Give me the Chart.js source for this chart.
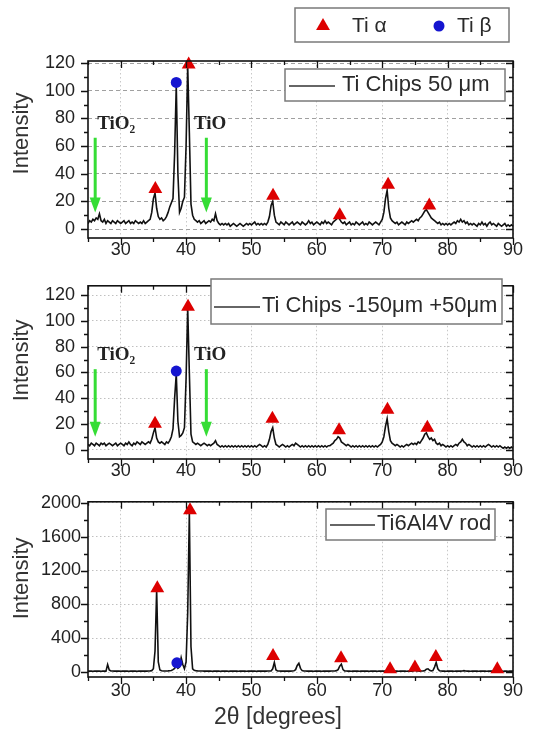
<!DOCTYPE html>
<html>
<head>
<meta charset="utf-8">
<script src="https://cdn.jsdelivr.net/npm/chart.js@4.4.1/dist/chart.umd.min.js"></script>
<style>
  html, body { margin: 0; padding: 0; background: #fff; }
  #wrap { position: relative; width: 533px; height: 737px; }
  #wrap canvas { position: absolute; left: 0; }
</style>
</head>
<body>
<div id="wrap">
  <canvas id="p1" width="533" height="262" style="top:0px"></canvas>
  <canvas id="p2" width="533" height="222" style="top:262px"></canvas>
  <canvas id="p3" width="533" height="253" style="top:484px"></canvas>
</div>
<script>
// 2theta grid (degrees), 10 points per row
const twoTheta = [
  25, 25.25, 25.5, 25.75, 26, 26.25, 26.5, 26.75, 27, 27.25,
  27.5, 27.75, 28, 28.25, 28.5, 28.75, 29, 29.25, 29.5, 29.75,
  30, 30.25, 30.5, 30.75, 31, 31.25, 31.5, 31.75, 32, 32.25,
  32.5, 32.75, 33, 33.25, 33.5, 33.75, 34, 34.25, 34.5, 34.75,
  35, 35.25, 35.5, 35.75, 36, 36.25, 36.5, 36.75, 37, 37.25,
  37.5, 37.75, 38, 38.25, 38.5, 38.75, 39, 39.25, 39.5, 39.75,
  40, 40.25, 40.5, 40.75, 41, 41.25, 41.5, 41.75, 42, 42.25,
  42.5, 42.75, 43, 43.25, 43.5, 43.75, 44, 44.25, 44.5, 44.75,
  45, 45.25, 45.5, 45.75, 46, 46.25, 46.5, 46.75, 47, 47.25,
  47.5, 47.75, 48, 48.25, 48.5, 48.75, 49, 49.25, 49.5, 49.75,
  50, 50.25, 50.5, 50.75, 51, 51.25, 51.5, 51.75, 52, 52.25,
  52.5, 52.75, 53, 53.25, 53.5, 53.75, 54, 54.25, 54.5, 54.75,
  55, 55.25, 55.5, 55.75, 56, 56.25, 56.5, 56.75, 57, 57.25,
  57.5, 57.75, 58, 58.25, 58.5, 58.75, 59, 59.25, 59.5, 59.75,
  60, 60.25, 60.5, 60.75, 61, 61.25, 61.5, 61.75, 62, 62.25,
  62.5, 62.75, 63, 63.25, 63.5, 63.75, 64, 64.25, 64.5, 64.75,
  65, 65.25, 65.5, 65.75, 66, 66.25, 66.5, 66.75, 67, 67.25,
  67.5, 67.75, 68, 68.25, 68.5, 68.75, 69, 69.25, 69.5, 69.75,
  70, 70.25, 70.5, 70.75, 71, 71.25, 71.5, 71.75, 72, 72.25,
  72.5, 72.75, 73, 73.25, 73.5, 73.75, 74, 74.25, 74.5, 74.75,
  75, 75.25, 75.5, 75.75, 76, 76.25, 76.5, 76.75, 77, 77.25,
  77.5, 77.75, 78, 78.25, 78.5, 78.75, 79, 79.25, 79.5, 79.75,
  80, 80.25, 80.5, 80.75, 81, 81.25, 81.5, 81.75, 82, 82.25,
  82.5, 82.75, 83, 83.25, 83.5, 83.75, 84, 84.25, 84.5, 84.75,
  85, 85.25, 85.5, 85.75, 86, 86.25, 86.5, 86.75, 87, 87.25,
  87.5, 87.75, 88, 88.25, 88.5, 88.75, 89, 89.25, 89.5, 89.75,
  90
];

// Ti Chips 50 um
const chips50 = [
  4, 6, 5, 7, 6, 8, 7, 11, 6, 5,
  7, 4, 6, 5, 4, 6, 5, 4, 6, 5,
  4, 5, 6, 4, 5, 6, 4, 5, 4, 6,
  5, 4, 5, 4, 6, 4, 5, 6, 7, 12,
  22, 26, 15, 9, 7, 8, 6, 7, 9, 12,
  16, 19, 22, 55, 104, 40, 12, 15, 20, 23,
  60, 118, 70, 18, 10, 7, 6, 5, 6, 4,
  5, 6, 4, 5, 6, 5, 7, 6, 11, 6,
  4, 3, 4, 3, 4, 3, 4, 2, 3, 4,
  3, 2, 3, 4, 3, 2, 3, 4, 3, 4,
  3, 4, 5, 3, 4, 3, 4, 3, 4, 3,
  5, 9, 17, 20, 10, 5, 4, 3, 5, 4,
  3, 5, 4, 3, 4, 5, 3, 4, 5, 4,
  3, 5, 4, 3, 4, 6, 4, 5, 3, 4,
  5, 4, 3, 5, 4, 6, 4, 5, 4, 3,
  5, 6, 7, 9, 7, 5, 4, 5, 3, 4,
  5, 3, 4, 3, 5, 4, 3, 4, 5, 3,
  4, 3, 5, 4, 3, 4, 5, 4, 3, 5,
  7, 12, 22, 28, 15, 8, 6, 5, 4, 5,
  3, 4, 5, 4, 3, 5, 4, 5, 6, 5,
  6, 7, 6, 8, 9, 11, 13, 14, 12, 10,
  8, 7, 6, 5, 4, 5, 3, 4, 3, 4,
  3, 4, 3, 4, 5, 4, 6, 5, 7, 5,
  6, 4, 5, 3, 4, 3, 4, 3, 2, 4,
  3, 5, 3, 4, 2, 4, 5, 3, 4, 3,
  2, 4, 3, 2, 3, 4, 2, 3, 2, 3,
  2
];

// Ti Chips -150um +50um
const chips150 = [
  4, 3, 5, 4, 3, 5, 4, 3, 5, 4,
  5, 3, 4, 5, 4, 3, 4, 5, 3, 4,
  5, 4, 3, 5, 4, 6, 4, 3, 5, 4,
  6, 5, 4, 6, 5, 4, 5, 6, 5, 8,
  13, 17, 9, 6, 5, 6, 5, 4, 6, 5,
  7, 10, 16, 40, 59, 22, 10, 11, 13, 17,
  55, 110, 60, 12, 6, 5, 4, 5, 4, 3,
  4, 5, 4, 3, 4, 3, 4, 5, 7, 4,
  3, 2, 3, 2, 3, 2, 3, 2, 3, 2,
  3, 2, 3, 2, 3, 2, 3, 2, 3, 2,
  3, 2, 3, 2, 3, 4, 3, 2, 3, 2,
  4, 8, 14, 17, 9, 4, 3, 2, 3, 4,
  3, 2, 3, 2, 3, 4, 3, 5, 4, 3,
  2, 3, 2, 3, 2, 3, 2, 3, 2, 3,
  2, 3, 2, 3, 2, 3, 2, 3, 3, 4,
  5, 7, 8, 10, 9, 6, 5, 4, 3, 4,
  3, 2, 3, 2, 3, 2, 3, 2, 3, 2,
  3, 2, 3, 2, 3, 2, 3, 2, 3, 4,
  6, 10, 18, 24, 14, 7, 5, 4, 3, 4,
  3, 2, 3, 2, 3, 4, 3, 4, 5, 4,
  5, 4, 6, 5, 7, 9, 12, 13, 10, 8,
  9, 7, 8, 5, 4, 5, 3, 4, 3, 2,
  3, 2, 3, 2, 3, 4, 3, 5, 6, 8,
  6, 5, 3, 4, 3, 2, 3, 2, 3, 2,
  3, 2, 3, 2, 3, 4, 3, 2, 3, 2,
  3, 2, 3, 2, 1, 2, 1, 2, 1, 2,
  1
];

// Ti6Al4V rod
const rod = [
  12, 13, 12, 11, 13, 12, 12, 13, 11, 12,
  13, 12, 90, 25, 14, 13, 12, 12, 13, 12,
  11, 12, 13, 12, 12, 11, 12, 13, 12, 12,
  11, 12, 13, 12, 12, 13, 12, 14, 15, 18,
  40, 250, 970, 120, 25, 16, 14, 13, 14, 15,
  17, 20, 30, 45, 80, 45, 60, 170, 90, 40,
  120, 700, 1890, 300, 40, 22, 17, 15, 14, 13,
  13, 12, 12, 13, 12, 12, 11, 12, 13, 12,
  12, 11, 12, 13, 12, 12, 11, 12, 12, 13,
  12, 12, 11, 12, 13, 12, 12, 11, 12, 12,
  13, 12, 12, 11, 12, 13, 12, 12, 13, 12,
  13, 14, 15, 40, 115, 25, 14, 13, 12, 12,
  13, 12, 12, 13, 12, 14, 16, 30, 80, 105,
  45, 18, 14, 13, 12, 12, 13, 12, 11, 12,
  12, 13, 12, 11, 12, 12, 13, 12, 12, 13,
  13, 14, 18, 30, 70, 95, 30, 15, 13, 12,
  12, 11, 12, 13, 12, 12, 11, 12, 12, 13,
  12, 12, 11, 12, 13, 12, 12, 11, 12, 13,
  12, 12, 13, 12, 16, 22, 15, 13, 12, 12,
  11, 12, 13, 12, 12, 11, 12, 13, 12, 14,
  22, 15, 13, 12, 13, 14, 18, 35, 40, 22,
  16, 20, 60, 115, 40, 16, 13, 12, 12, 11,
  12, 12, 13, 12, 11, 12, 12, 13, 12, 13,
  18, 13, 12, 12, 11, 12, 13, 12, 12, 11,
  12, 12, 13, 12, 11, 12, 12, 13, 12, 13,
  16, 13, 12, 12, 11, 12, 12, 11, 12, 12,
  12
];

// phase markers (2theta, intensity)
const alpha50X = [35.3, 40.4, 53.3, 63.5, 70.9, 77.2];
const alpha50Y = [29, 119, 24, 10, 32, 17];
const beta50X = [38.5];
const beta50Y = [106];
const alpha150X = [35.25, 40.3, 53.2, 63.4, 70.8, 76.9];
const alpha150Y = [20, 111, 24, 15, 31, 17];
const beta150X = [38.5];
const beta150Y = [61];
const alphaRodX = [35.6, 40.6, 53.3, 63.7, 71.2, 75.0, 78.2, 87.6];
const alphaRodY = [990, 1910, 190, 165, 35, 55, 180, 35];
const betaRodX = [38.6];
const betaRodY = [110];

// ticks
const xTicks = [30, 40, 50, 60, 70, 80, 90];
const xMinor = [25, 35, 45, 55, 65, 75, 85];
const yTicksChips = [0, 20, 40, 60, 80, 100, 120];
const yMinorChips = [10, 30, 50, 70, 90, 110];
const yTicksRod = [0, 400, 800, 1200, 1600, 2000];
const yMinorRod = [200, 600, 1000, 1400, 1800];

const SANS = '"Liberation Sans", Arial, sans-serif';
const SERIF = '"Liberation Serif", "Times New Roman", serif';
Chart.defaults.font.family = SANS;

const RED = '#dd0000';
const BLUE = '#1515d0';
const GREEN = '#35dd35';
const TRI_R = 8;
const DOT_R = 5.5;

const zip = (xs, ys) => xs.map((x, i) => ({ x: x, y: ys[i] }));

function drawMarker(ctx, style, x, y, r, color) {
  ctx.fillStyle = color;
  ctx.beginPath();
  if (style === 'triangle') {
    ctx.moveTo(x, y - r);
    ctx.lineTo(x + r * 0.866, y + r / 2);
    ctx.lineTo(x - r * 0.866, y + r / 2);
    ctx.closePath();
  } else {
    ctx.arc(x, y, r, 0, Math.PI * 2);
  }
  ctx.fill();
}

const decor = {
  id: 'decor',
  afterDatasetsDraw(chart, args, o) {
    const { ctx, chartArea: a, scales: { x, y } } = chart;
    ctx.save();

    // tick marks: outward on bottom/left, inward on top/right
    ctx.strokeStyle = '#111';
    ctx.lineWidth = 1.3;
    const xMarks = xTicks.map(v => [v, 7]).concat(xMinor.map(v => [v, 4]));
    xMarks.forEach(([v, len]) => {
      const px = Math.round(x.getPixelForValue(v)) + 0.5;
      ctx.beginPath();
      ctx.moveTo(px, a.bottom); ctx.lineTo(px, a.bottom + len);
      ctx.moveTo(px, a.top); ctx.lineTo(px, a.top + len);
      ctx.stroke();
    });
    const yMarks = o.yMajor.map(v => [v, 7]).concat(o.yMinor.map(v => [v, 4]));
    yMarks.forEach(([v, len]) => {
      const py = Math.round(y.getPixelForValue(v)) + 0.5;
      ctx.beginPath();
      ctx.moveTo(a.left - len, py); ctx.lineTo(a.left, py);
      ctx.moveTo(a.right - len, py); ctx.lineTo(a.right, py);
      ctx.stroke();
    });

    // frame
    ctx.lineWidth = 1.6;
    ctx.strokeRect(a.left, a.top, a.right - a.left, a.bottom - a.top);

    // oxide arrows and labels
    (o.arrows || []).forEach(ar => {
      const px = x.getPixelForValue(ar.x);
      const yTop = y.getPixelForValue(ar.from);
      const yTip = y.getPixelForValue(ar.to);
      const head = 15, hw = 5.5;
      ctx.strokeStyle = GREEN; ctx.fillStyle = GREEN; ctx.lineWidth = 3;
      ctx.beginPath(); ctx.moveTo(px, yTop); ctx.lineTo(px, yTip - head + 1); ctx.stroke();
      ctx.beginPath();
      ctx.moveTo(px - hw, yTip - head); ctx.lineTo(px + hw, yTip - head); ctx.lineTo(px, yTip);
      ctx.closePath(); ctx.fill();
    });
    ctx.fillStyle = '#222';
    ctx.font = 'bold 19px ' + SERIF;
    ctx.textAlign = 'left';
    ctx.textBaseline = 'middle';
    (o.notes || []).forEach(n => {
      ctx.fillText(n.text, x.getPixelForValue(n.x), y.getPixelForValue(n.y));
    });

    // in-plot legend for the pattern line
    const lg = o.legend;
    const line = chart.data.datasets.find(d => d.type === 'line');
    ctx.fillStyle = '#fff';
    ctx.fillRect(lg.box[0], lg.box[1], lg.box[2] - lg.box[0], lg.box[3] - lg.box[1]);
    ctx.strokeStyle = '#7a7a7a'; ctx.lineWidth = 1.5;
    ctx.strokeRect(lg.box[0], lg.box[1], lg.box[2] - lg.box[0], lg.box[3] - lg.box[1]);
    ctx.strokeStyle = '#333'; ctx.lineWidth = 1.5;
    ctx.beginPath(); ctx.moveTo(lg.line[0], lg.ty + 1); ctx.lineTo(lg.line[1], lg.ty + 1); ctx.stroke();
    ctx.fillStyle = '#2a2a2a';
    ctx.font = '22px ' + SANS;
    ctx.fillText(line.label, lg.tx, lg.ty);

    // phase legend above the first panel
    if (o.phaseLegend) {
      const p = o.phaseLegend;
      ctx.fillStyle = '#fff';
      ctx.fillRect(p.box[0], p.box[1], p.box[2] - p.box[0], p.box[3] - p.box[1]);
      ctx.strokeStyle = '#7a7a7a'; ctx.lineWidth = 1.5;
      ctx.strokeRect(p.box[0], p.box[1], p.box[2] - p.box[0], p.box[3] - p.box[1]);
      ctx.font = '21px ' + SANS;
      p.items.forEach(it => {
        const ds = chart.data.datasets[it.ds];
        drawMarker(ctx, ds.pointStyle, it.mx, p.y, ds.pointRadius, ds.backgroundColor);
        ctx.fillStyle = '#2a2a2a';
        ctx.fillText(ds.label, it.tx, p.y);
      });
    }

    // axis titles
    ctx.fillStyle = '#333';
    ctx.font = '22px ' + SANS;
    ctx.textAlign = 'center';
    ctx.save();
    ctx.translate(22, (a.top + a.bottom) / 2 + o.yTitleShift);
    ctx.rotate(-Math.PI / 2);
    ctx.fillText('Intensity', 0, 0);
    ctx.restore();
    if (o.xTitle) {
      ctx.font = '23px ' + SANS;
      ctx.fillText(o.xTitle.text, o.xTitle.x, o.xTitle.y);
    }
    ctx.restore();
  }
};

function makePanel(id, p) {
  return new Chart(document.getElementById(id), {
    type: 'line',
    data: {
      datasets: [
        { type: 'scatter', label: 'Ti α', data: zip(p.ax, p.ay), pointStyle: 'triangle',
          pointRadius: TRI_R, backgroundColor: RED, borderColor: RED, borderWidth: 0, clip: false, order: 0 },
        { type: 'scatter', label: 'Ti β', data: zip(p.bx, p.by), pointStyle: 'circle',
          pointRadius: DOT_R, backgroundColor: BLUE, borderColor: BLUE, borderWidth: 0, clip: false, order: 0 },
        { type: 'line', label: p.label, data: zip(twoTheta, p.values), borderColor: '#111',
          borderWidth: 1.6, pointRadius: 0, tension: 0, order: 1 }
      ]
    },
    options: {
      responsive: false,
      animation: false,
      devicePixelRatio: 1,
      events: [],
      layout: { padding: { top: p.padTop, right: 20, left: 0, bottom: 0 } },
      plugins: {
        legend: { display: false },
        tooltip: { enabled: false },
        decor: p.decor
      },
      scales: {
        x: {
          type: 'linear', min: 25, max: 90,
          afterBuildTicks: s => { s.ticks = xTicks.map(v => ({ value: v })); },
          afterFit: s => { s.height = p.xAxisH; },
          grid: { color: '#c8c8c8', lineWidth: 1, drawTicks: false },
          border: { display: false, dash: [1.5, 2.5] },
          ticks: { padding: p.xPad, color: '#222', font: { size: 18 }, maxRotation: 0, autoSkip: false,
            callback: v => String(v) }
        },
        y: {
          type: 'linear', min: p.yMin, max: p.yMax,
          afterBuildTicks: s => { s.ticks = p.yTicks.map(v => ({ value: v })); },
          afterFit: s => { s.width = 88; },
          grid: { color: p.yGridColor, lineWidth: 1, drawTicks: false },
          border: { display: false, dash: p.yDash },
          ticks: { padding: p.yPad, color: '#222', font: { size: 18 }, autoSkip: false,
            callback: v => String(v) }
        }
      }
    },
    plugins: [decor]
  });
}

makePanel('p1', {
  label: 'Ti Chips 50 μm', values: chips50,
  ax: alpha50X, ay: alpha50Y, bx: beta50X, by: beta50Y,
  padTop: 61, xAxisH: 24, xPad: 1, yPad: 13,
  yMin: -6.5, yMax: 121.5, yTicks: yTicksChips,
  yGridColor: '#a0a0a0', yDash: [4, 3],
  decor: {
    yMajor: yTicksChips, yMinor: yMinorChips, yTitleShift: -16,
    arrows: [{ x: 26.1, from: 66, to: 12 }, { x: 43.1, from: 66, to: 12 }],
    notes: [{ text: 'TiO₂', x: 26.4, y: 76 }, { text: 'TiO', x: 41.2, y: 76 }],
    legend: { box: [285, 69, 505, 101], line: [289, 335], tx: 342, ty: 85 },
    phaseLegend: { box: [295, 8, 509, 42], y: 26,
      items: [{ ds: 0, mx: 323, tx: 352 }, { ds: 1, mx: 439, tx: 457 }] }
  }
});

makePanel('p2', {
  label: 'Ti Chips -150μm +50μm', values: chips150,
  ax: alpha150X, ay: alpha150Y, bx: beta150X, by: beta150Y,
  padTop: 12, xAxisH: 25, xPad: 1, yPad: 13,
  yMin: -7.3, yMax: 127.3, yTicks: yTicksChips,
  yGridColor: '#c0c0c0', yDash: [1.5, 2.5],
  decor: {
    yMajor: yTicksChips, yMinor: yMinorChips, yTitleShift: -12,
    arrows: [{ x: 26.1, from: 62.5, to: 10 }, { x: 43.1, from: 62.5, to: 10 }],
    notes: [{ text: 'TiO₂', x: 26.4, y: 73.5 }, { text: 'TiO', x: 41.2, y: 73.5 }],
    legend: { box: [211, 17, 502, 62], line: [214, 260], tx: 262, ty: 44 }
  }
});

makePanel('p3', {
  label: 'Ti6Al4V rod', values: rod,
  ax: alphaRodX, ay: alphaRodY, bx: betaRodX, by: betaRodY,
  padTop: 12, xAxisH: 60, xPad: 3, yPad: 7,
  yMin: -57, yMax: 2011, yTicks: yTicksRod,
  yGridColor: '#c0c0c0', yDash: [1.5, 2.5],
  decor: {
    yMajor: yTicksRod, yMinor: yMinorRod, yTitleShift: -11,
    legend: { box: [326, 25, 495, 56], line: [330, 375], tx: 377, ty: 40 },
    xTitle: { text: '2θ [degrees]', x: 278, y: 234 }
  }
});
</script>
</body>
</html>
